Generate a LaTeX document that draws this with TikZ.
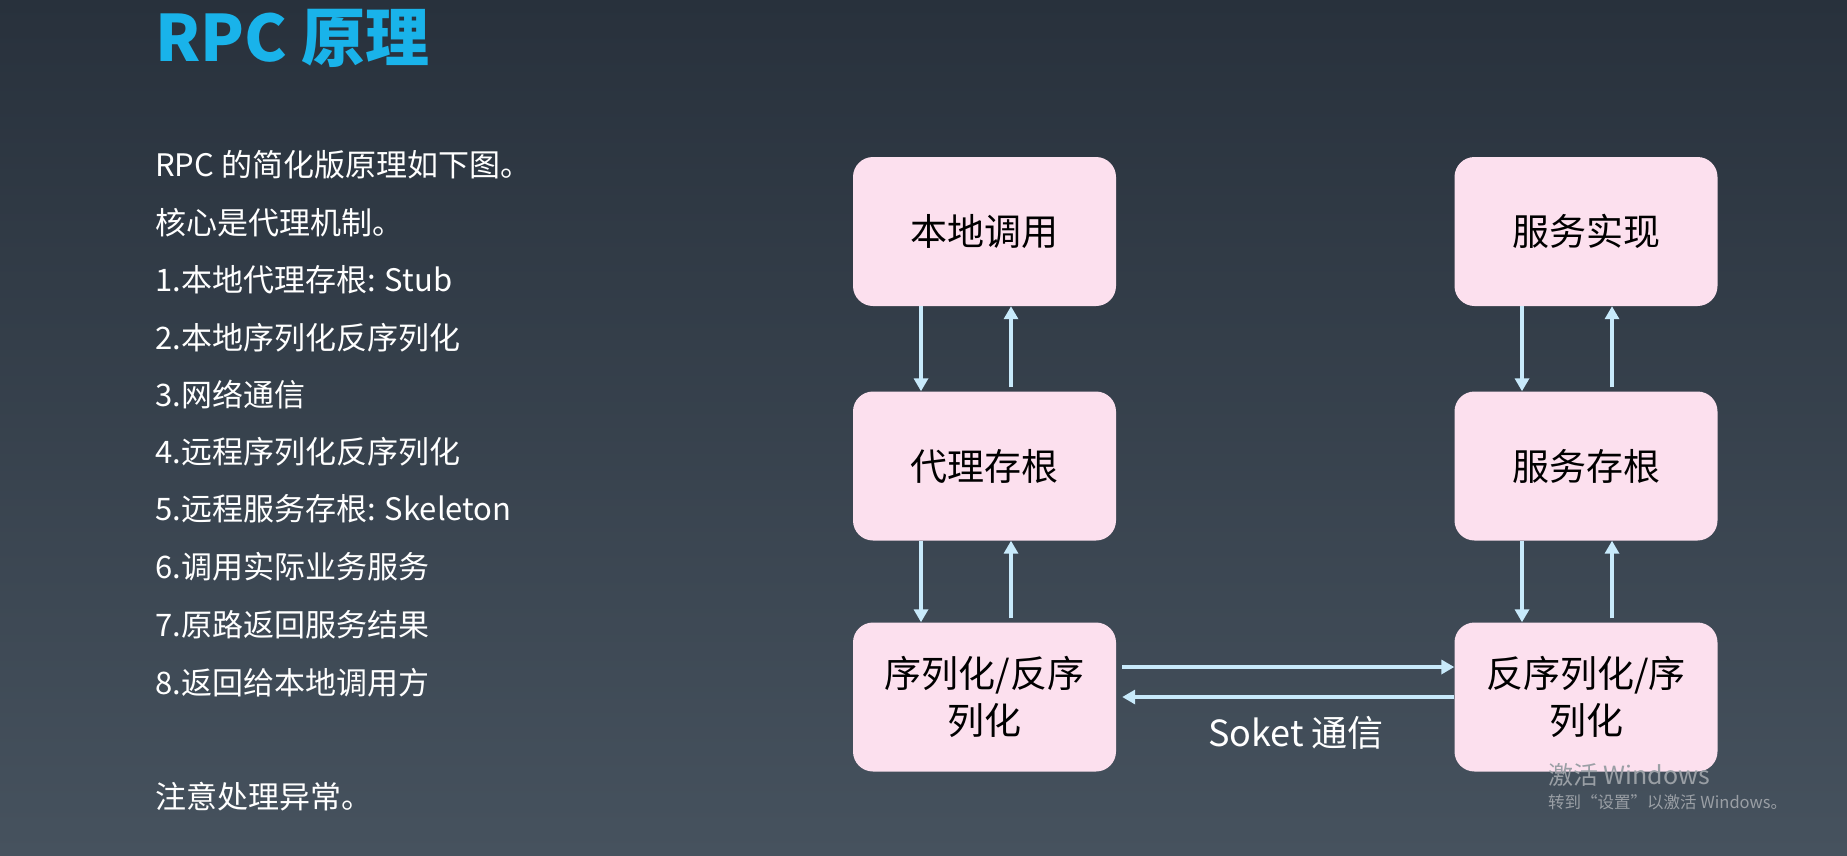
\documentclass[tikz,border=0pt]{standalone}
\usepackage{fontspec}
\setmainfont{Noto Sans CJK SC}
\usetikzlibrary{arrows.meta}
\definecolor{bgtop}{HTML}{28313C}
\definecolor{bgbot}{HTML}{46525E}
\definecolor{titlec}{HTML}{19B3EA}
\definecolor{boxfill}{HTML}{FCE0EE}
\definecolor{arrc}{HTML}{C8EAFB}
\definecolor{wmark}{HTML}{9A9FA5}
\tikzset{
  boxnode/.style={draw=none, fill=boxfill, rounded corners=20pt, minimum width=263pt, minimum height=149pt, inner sep=0pt, align=center, font=\fontsize{37}{47}\selectfont, text=black},
  listtext/.style={anchor=west, inner sep=0pt, text=white, font=\fontsize{31}{36}\selectfont},
  arr/.style={draw=arrc, line width=4pt, -{Triangle[width=14pt,length=13pt]}},
}
\begin{document}
\begin{tikzpicture}[x=1pt,y=-1pt]
\shade[top color=bgtop, bottom color=bgbot] (0,0) rectangle (1847,855);
\useasboundingbox (0,0) rectangle (1847,855);
% title
\node[anchor=west, inner sep=0pt, text=titlec, font=\fontsize{64}{70}\bfseries\selectfont] (title) at (155,38) {RPC 原理};
% list
\node[listtext] (l1) at (155,165) {RPC 的简化版原理如下图。};
\node[listtext] (l2) at (155,223) {核心是代理机制。};
\node[listtext] (l3) at (155,280) {1.本地代理存根: Stub};
\node[listtext] (l4) at (155,338) {2.本地序列化反序列化};
\node[listtext] (l5) at (155,395) {3.网络通信};
\node[listtext] (l6) at (155,452) {4.远程序列化反序列化};
\node[listtext] (l7) at (155,509) {5.远程服务存根: Skeleton};
\node[listtext] (l8) at (155,567) {6.调用实际业务服务};
\node[listtext] (l9) at (155,625) {7.原路返回服务结果};
\node[listtext] (l10) at (155,683) {8.返回给本地调用方};
\node[listtext] (l11) at (155,797) {注意处理异常。};
% boxes
\node[boxnode] (a1) at (984.5,231.5) {本地调用};
\node[boxnode] (a2) at (984.5,466) {代理存根};
\node[boxnode] (a3) at (984.5,697) {序列化/反序\\列化};
\node[boxnode] (b1) at (1586,231.5) {服务实现};
\node[boxnode] (b2) at (1586,466) {服务存根};
\node[boxnode] (b3) at (1586,697) {反序列化/序\\列化};
% vertical arrows
\draw[arr] ([xshift=-63.5pt]a1.south) -- ([xshift=-63.5pt]a2.north);
\draw[arr] ([xshift=26.5pt,yshift=4pt]a2.north) -- ([xshift=26.5pt]a1.south);
\draw[arr] ([xshift=-63.5pt]a2.south) -- ([xshift=-63.5pt]a3.north);
\draw[arr] ([xshift=26.5pt,yshift=4pt]a3.north) -- ([xshift=26.5pt]a2.south);
\draw[arr] ([xshift=-64pt]b1.south) -- ([xshift=-64pt]b2.north);
\draw[arr] ([xshift=26pt,yshift=4pt]b2.north) -- ([xshift=26pt]b1.south);
\draw[arr] ([xshift=-64pt]b2.south) -- ([xshift=-64pt]b3.north);
\draw[arr] ([xshift=26pt,yshift=4pt]b3.north) -- ([xshift=26pt]b2.south);
% horizontal arrows
\draw[arr] ([xshift=6pt,yshift=30pt]a3.east) -- ([yshift=30pt]b3.west);
\draw[arr] (b3.west) -- ([xshift=6pt]a3.east);
\node[inner sep=0pt, text=white, font=\fontsize{36}{40}\selectfont] (sock) at (1296,733) {Soket 通信};
% watermark
\node[anchor=west, inner sep=0pt, text=wmark, font=\fontsize{25}{28}\selectfont] (wm1) at (1548,775) {激活 Windows};
\node[anchor=west, inner sep=0pt, text=wmark, font=\fontsize{16.5}{19}\selectfont] (wm2) at (1548,802) {转到“设置”以激活 Windows。};
\end{tikzpicture}
\end{document}
